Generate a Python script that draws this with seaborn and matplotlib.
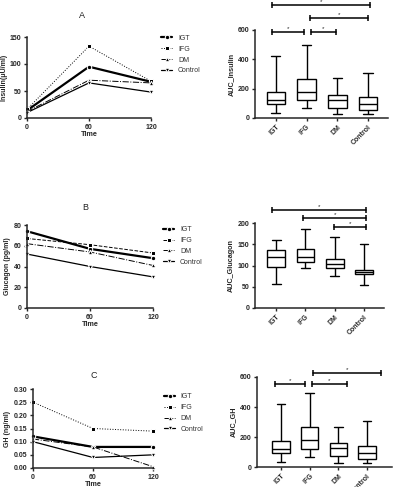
import numpy as np
import pandas as pd
import matplotlib
matplotlib.use("Agg")
import matplotlib.pyplot as plt
import seaborn as sns

# ---- data ----
TIMES = [0, 60, 120]
GROUPS = ["IGT", "IFG", "DM", "Control"]

# A: insulin (uU/ml)
insulin_igt = [14, 95, 67]
insulin_ifg = [16, 133, 68]
insulin_dm = [12, 70, 65]
insulin_control = [10, 65, 48]

# B: glucagon (pg/ml)
glucagon_igt = [74, 57, 48]
glucagon_ifg = [67, 61, 53]
glucagon_dm = [62, 54, 41]
glucagon_control = [52, 40, 30]

# C: GH (ng/ml)
gh_igt = [0.12, 0.08, 0.08]
gh_ifg = [0.25, 0.15, 0.14]
gh_dm = [0.11, 0.08, 0.005]
gh_control = [0.10, 0.04, 0.05]

# box plots: min, q1, median, q3, max per group (IGT, IFG, DM, Control)
auc_insulin = [[35, 95, 120, 175, 420],
               [70, 120, 175, 265, 495],
               [25, 70, 125, 155, 270],
               [25, 55, 95, 140, 310]]
auc_glucagon = [[57, 97, 119, 136, 159],
                [93, 108, 120, 138, 187],
                [75, 95, 103, 116, 168],
                [55, 79, 84, 90, 150]]
auc_gh = [[35, 95, 122, 175, 420],
          [70, 120, 178, 265, 495],
          [25, 72, 125, 158, 270],
          [25, 55, 95, 140, 310]]

W, H = 393, 487
FONT = "Liberation Sans"

sns.set_style("ticks")
plt.rcParams["font.family"] = [FONT, "DejaVu Sans"]
plt.rcParams["axes.linewidth"] = 1.1
plt.rcParams["xtick.major.width"] = 1.0
plt.rcParams["ytick.major.width"] = 1.0
plt.rcParams["xtick.major.size"] = 2.5
plt.rcParams["ytick.major.size"] = 2.5
plt.rcParams["xtick.major.pad"] = 1.5
plt.rcParams["ytick.major.pad"] = 1.5

fig = plt.figure(figsize=(W / 100, H / 100), dpi=100)
fig.patch.set_facecolor("white")


def rect(left, top, right, bottom):
    return [left / W, 1 - bottom / H, (right - left) / W, (bottom - top) / H]


def style_axes(ax):
    sns.despine(ax=ax)
    for lab in ax.get_xticklabels() + ax.get_yticklabels():
        lab.set_fontsize(5)
        lab.set_fontweight("bold")


def line_panel(ax, series, ifg_ls, ylim, yticks, ylabel, title, title_xy, leg_anchor, yfmt=None):
    styles = {
        "IGT": dict(marker="o", linestyle="-", linewidth=1.6, markersize=3.2),
        "IFG": dict(marker="s", linestyle=ifg_ls, linewidth=0.7, markersize=3.0),
        "DM": dict(marker="^", linestyle="-.", linewidth=0.7, markersize=3.2),
        "Control": dict(marker="v", linestyle="-", linewidth=0.9, markersize=3.2),
    }
    for name, vals in zip(GROUPS, series):
        sns.lineplot(x=TIMES, y=vals, ax=ax, color="black", label=name,
                     clip_on=False, **styles[name])
    ax.set_xlim(0, 120)
    ax.set_ylim(*ylim)
    ax.set_xticks(TIMES)
    ax.set_yticks(yticks)
    if yfmt:
        ax.set_yticklabels([yfmt.format(v) for v in yticks])
    ax.set_xlabel("Time", fontsize=5.2, fontweight="bold", labelpad=0.5)
    ax.set_ylabel(ylabel, fontsize=5, fontweight="bold", labelpad=2)
    style_axes(ax)
    leg = ax.legend(loc="upper left", bbox_to_anchor=leg_anchor, frameon=False,
                    fontsize=5, handlelength=1.6, labelspacing=0.55,
                    handletextpad=0.8, borderaxespad=0)
    for t in leg.get_texts():
        t.set_color("#333333")
    fig.text(title_xy[0] / W, 1 - title_xy[1] / H, title, fontsize=6.5,
             ha="center", va="center", color="#222222")


def box_panel(ax, stats, ylabel, ylim, yticks, xlim, brackets):
    df = pd.DataFrame({"group": np.repeat(GROUPS, 5),
                       "value": np.concatenate(stats)})
    sns.boxplot(data=df, x="group", y="value", ax=ax, whis=(0, 100), width=0.6,
                color="white", linecolor="black", linewidth=1.0, fliersize=0)
    ax.set_xlim(*xlim)
    ax.set_ylim(*ylim)
    ax.set_yticks(yticks)
    ax.set_xlabel("")
    ax.set_ylabel(ylabel, fontsize=5.2, fontweight="bold", labelpad=2)
    style_axes(ax)
    for lab in ax.get_xticklabels():
        lab.set_rotation(45)
        lab.set_ha("right")
        lab.set_rotation_mode("anchor")
    span = ylim[1] - ylim[0]
    for x0, x1, y in brackets:
        ax.plot([x0, x1], [y, y], color="black", lw=1.1, marker="|",
                markersize=4.5, markeredgewidth=1.1, clip_on=False)
        ax.text((x0 + x1) / 2, y + span * 0.015, "*", ha="center", va="bottom",
                fontsize=4.5, clip_on=False)


# ---- A ----
ax = fig.add_axes(rect(27, 37, 151, 118))
line_panel(ax, [insulin_igt, insulin_ifg, insulin_dm, insulin_control], ":",
           (0, 150), [0, 50, 100, 150], "Insulin(\u03bcU/ml)", "A", (82, 15),
           (1.06, 1.06))

ax = fig.add_axes(rect(255, 30, 388, 118))
box_panel(ax, auc_insulin, "AUC_Insulin", (0, 600), [0, 200, 400, 600],
          (-0.68, 3.65),
          [(-0.13, 3.07, 770), (1.1, 3.0, 682), (-0.13, 0.9, 586), (1.13, 1.97, 586)])

# ---- B ----
ax = fig.add_axes(rect(27, 225, 153, 308))
line_panel(ax, [glucagon_igt, glucagon_ifg, glucagon_dm, glucagon_control], "--",
           (0, 80), [0, 20, 40, 60, 80], "Glucagon (pg/ml)", "B", (85, 207),
           (1.06, 1.02))

ax = fig.add_axes(rect(255, 223, 384, 308))
box_panel(ax, auc_glucagon, "AUC_Glucagon", (0, 200), [0, 50, 100, 150, 200],
          (-0.72, 3.68),
          [(-0.14, 3.07, 231), (0.92, 3.07, 212), (1.97, 3.07, 191)])

# ---- C ----
ax = fig.add_axes(rect(33, 389, 153, 468))
line_panel(ax, [gh_igt, gh_ifg, gh_dm, gh_control], ":",
           (0, 0.30), [0, 0.05, 0.10, 0.15, 0.20, 0.25, 0.30], "GH (ng/ml)", "C",
           (94, 376), (1.07, 0.98), yfmt="{:.2f}")

ax = fig.add_axes(rect(257, 377, 392, 467))
box_panel(ax, auc_gh, "AUC_GH", (0, 600), [0, 200, 400, 600],
          (-0.84, 3.87),
          [(-0.2, 0.85, 553), (1.07, 2.3, 553), (1.1, 3.5, 627)])

fig.savefig("out.png", dpi=100, facecolor="white")
